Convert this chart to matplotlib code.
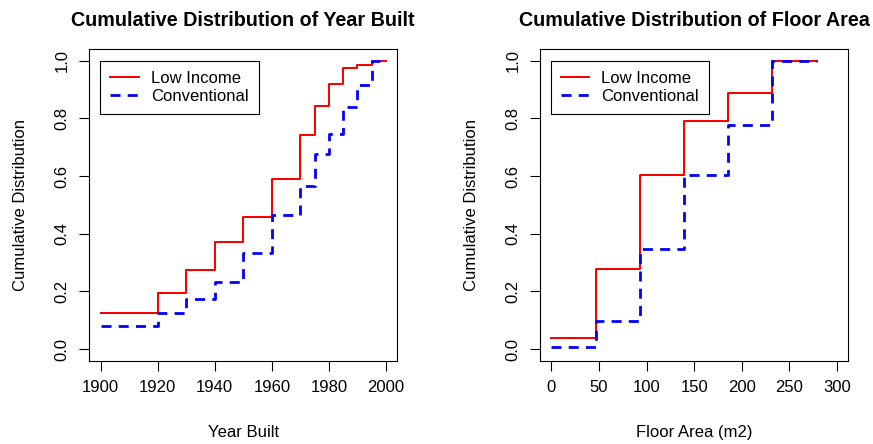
import matplotlib
matplotlib.use("Agg")
import matplotlib.pyplot as plt

plt.rcParams['font.family'] = ['Liberation Sans', 'DejaVu Sans']

# year built: step edges and cumulative share for each interval
year_edges = [1900, 1920, 1930, 1940, 1950, 1960, 1970, 1975, 1980, 1985, 1990, 1995, 2000]
year_low = [0.127, 0.194, 0.275, 0.373, 0.459, 0.590, 0.744, 0.843, 0.920, 0.974, 0.984, 1.0]
year_conv = [0.081, 0.125, 0.174, 0.232, 0.335, 0.467, 0.567, 0.676, 0.747, 0.841, 0.916, 1.0]

# floor area (m2)
area_edges = [0, 46.45, 92.9, 139.35, 185.8, 232.25, 278.7]
area_low = [0.038, 0.278, 0.605, 0.791, 0.889, 1.0]
area_conv = [0.009, 0.098, 0.349, 0.604, 0.778, 1.0]

year_ticks = [1900, 1920, 1940, 1960, 1980, 2000]
area_ticks = [0, 50, 100, 150, 200, 250, 300]
y_ticks = [0.0, 0.2, 0.4, 0.6, 0.8, 1.0]

W, H = 873, 444
fig = plt.figure(figsize=(W / 100, H / 100), dpi=100)

def px_axes(left, top, right, bottom):
    return fig.add_axes([left / W, (H - bottom) / H, (right - left) / W, (bottom - top) / H])

def panel(ax, edges, low, conv, xlim, xticks, title, xlabel):
    ax.step(edges, low + [low[-1]], where='post', color='red', lw=1.45, label='Low Income')
    ax.step(edges, conv + [conv[-1]], where='post', color='blue', lw=2.0,
            dashes=(3.6, 2.6), label='Conventional')
    ax.set_xlim(xlim)
    ax.set_ylim(-0.04, 1.04)
    ax.set_xticks(xticks)
    ax.set_xticklabels([str(t) for t in xticks])
    ax.set_yticks(y_ticks)
    ax.set_yticklabels(['%.1f' % t for t in y_ticks], rotation=90, va='center')
    ax.tick_params(direction='out', length=7.2, width=0.8, labelsize=12, pad=7)
    for s in ax.spines.values():
        s.set_linewidth(0.8)
    ax.set_title(title, fontsize=14.2, fontweight='bold', pad=17)
    ax.set_xlabel(xlabel, fontsize=12, labelpad=21)
    ax.set_ylabel('Cumulative Distribution', fontsize=12, labelpad=19)
    leg = ax.legend(loc='upper left', bbox_to_anchor=(0.035, 0.963), borderaxespad=0,
                    fancybox=False, edgecolor='black', framealpha=1, fontsize=12,
                    handlelength=1.7, handletextpad=0.72, borderpad=0.62,
                    labelspacing=0.16)
    leg.get_frame().set_linewidth(0.8)

ax1 = px_axes(89.3, 49.3, 397.3, 360.7)
panel(ax1, year_edges, year_low, year_conv, (1896, 2004), year_ticks,
      'Cumulative Distribution of Year Built', 'Year Built')

ax2 = px_axes(540, 49.3, 848.3, 360.7)
panel(ax2, area_edges, area_low, area_conv, (-12, 312), area_ticks,
      'Cumulative Distribution of Floor Area', 'Floor Area (m2)')

fig.savefig('out.png', dpi=100)
